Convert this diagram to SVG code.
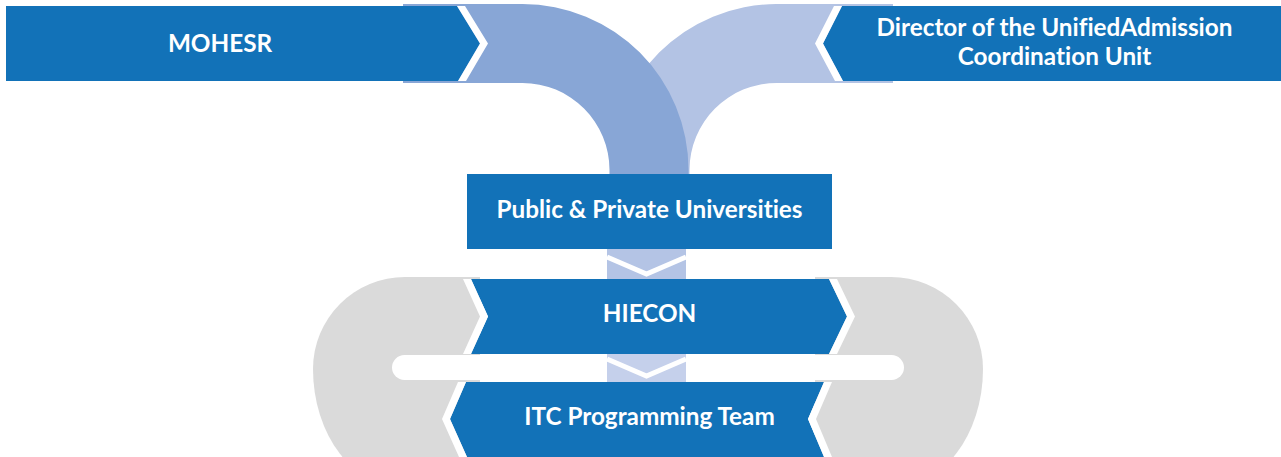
<svg xmlns="http://www.w3.org/2000/svg" width="1281" height="457" viewBox="0 0 1281 457">
  <style>
    .box { fill: #1272B8; }
    .edge { fill: #FFFFFF; }
    .lbl { font-family: Lato, "Liberation Sans", sans-serif; font-weight: 700; font-size: 24.3px; fill: #FFFFFF; text-anchor: middle; font-variant-ligatures: none; }
    .vgap { fill: none; stroke: #FFFFFF; stroke-width: 5; }
  </style>
  <rect width="1281" height="457" fill="#FFFFFF"/>

  <g id="connectors">
    <!-- gray loop pieces -->
    <path d="M480,277 L405,277 A92,92 0 0 0 313,369 A92,120 0 0 0 405,489 L480,489 Z" fill="#DADADA"/>
    <path d="M815,277 L891,277 A92,92 0 0 1 983,369 A92,120 0 0 1 891,489 L815,489 Z" fill="#DADADA"/>
    <rect x="392" y="355" width="512" height="25" rx="12.5" fill="#FFFFFF"/>
    <!-- curved bands -->
    <path d="M893,4 L776.5,4 A166,166 0 0 0 610.5,170 L610.5,178 L689.5,178 L689.5,170 A87,87 0 0 1 776.5,83 L893,83 Z" fill="#B3C3E4"/>
    <path d="M403,4 L522.5,4 A166,166 0 0 1 688.5,170 L688.5,178 L609.5,178 L609.5,170 A87,87 0 0 0 522.5,83 L403,83 Z" fill="#88A6D6"/>
    <!-- down chevrons -->
    <rect x="607" y="248" width="79" height="32" fill="#B4C4E5"/>
    <polyline class="vgap" points="607,257 646.5,274 686,257"/>
    <rect x="607" y="353" width="79" height="30" fill="#C5D0EB"/>
    <polyline class="vgap" points="607,359 646.5,376 686,359"/>
  </g>

  <g id="mohesr">
    <polygon class="box" points="6,6 457,6 480,43.5 458,81 6,81"/>
    <polygon class="edge" points="457,6 480,43.5 458,81 466,81 488,43.5 465,6"/>
    <text class="lbl" x="220" y="52">MOHESR</text>
  </g>

  <g id="director">
    <polygon class="box" points="842,6 1281,6 1281,81 843,81 823,43.5"/>
    <polygon class="edge" points="842,6 823,43.5 843,81 835,81 815,43.5 834,6"/>
    <text class="lbl" x="1054.5" y="36">Director of the UnifiedAdmission</text>
    <text class="lbl" x="1054.5" y="65">Coordination Unit</text>
  </g>

  <g id="universities">
    <rect class="box" x="467" y="174" width="365" height="75"/>
    <text class="lbl" x="649.5" y="218">Public &amp; Private Universities</text>
  </g>

  <g id="hiecon">
    <polygon class="box" points="471,279 829,279 847,316.5 829,354 471,354 488,316.5"/>
    <polygon class="edge" points="471,279 488,316.5 471,354 463,354 480,316.5 463,279"/>
    <polygon class="edge" points="829,279 847,316.5 829,354 837,354 855,316.5 837,279"/>
    <text class="lbl" x="649.5" y="322">HIECON</text>
  </g>

  <g id="itc">
    <polygon class="box" points="466,382 824,382 808,419 824,457 467,457 450,419"/>
    <polygon class="edge" points="466,382 450,419 467,457 459,457 442,419 458,382"/>
    <polygon class="edge" points="824,382 808,419 824,457 832,457 816,419 832,382"/>
    <text class="lbl" x="649.5" y="425">ITC Programming Team</text>
  </g>
</svg>
